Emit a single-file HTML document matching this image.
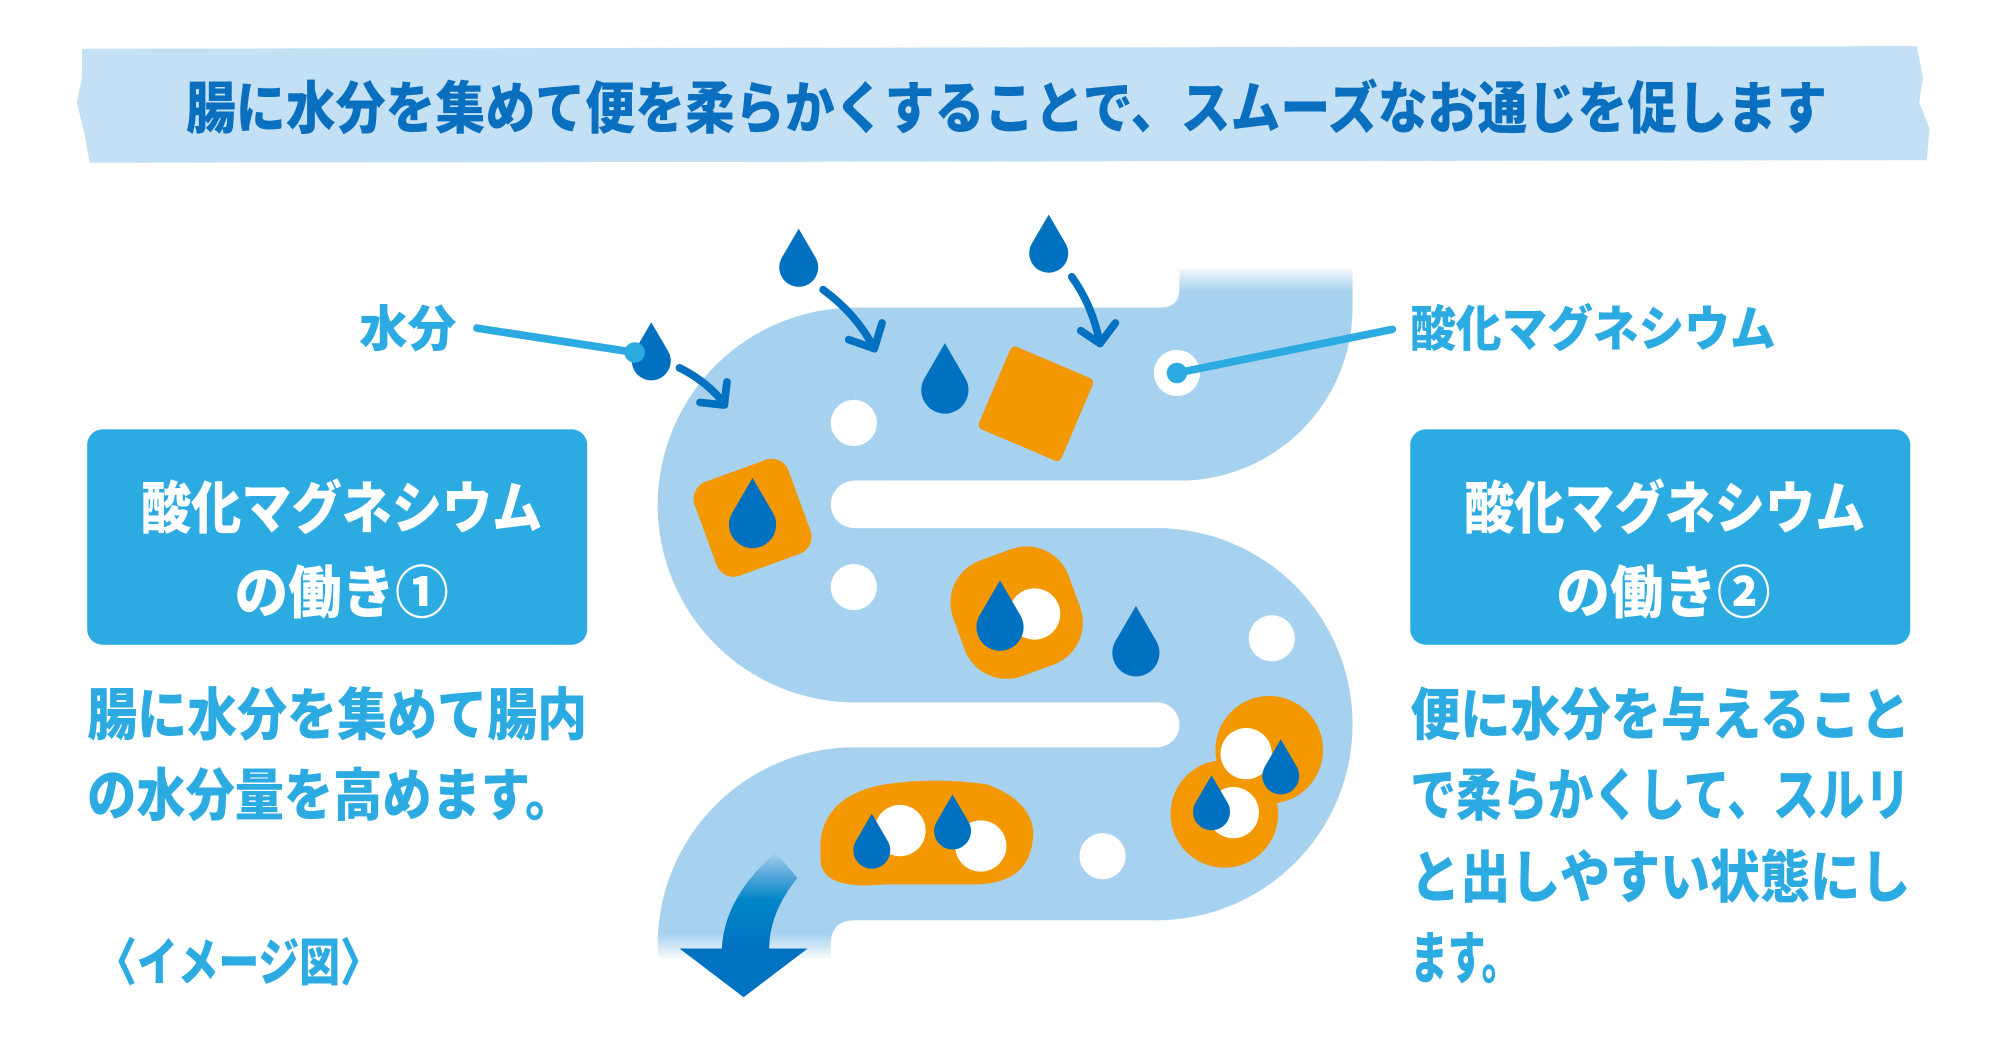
<!DOCTYPE html>
<html><head><meta charset="utf-8"><style>
html,body{margin:0;padding:0;background:#fff;}
svg{display:block;}
text{font-family:"Liberation Sans","Noto Sans CJK JP",sans-serif;font-weight:900;}
</style></head><body>
<svg width="2000" height="1060" viewBox="0 0 1560 827" preserveAspectRatio="none" xmlns="http://www.w3.org/2000/svg">
<defs>
<linearGradient id="ft" x1="0" y1="0" x2="0" y2="1"><stop offset="0" stop-color="#fff"/><stop offset="1" stop-color="#fff" stop-opacity="0"/></linearGradient>
<linearGradient id="fb" x1="0" y1="0" x2="0" y2="1"><stop offset="0" stop-color="#fff" stop-opacity="0"/><stop offset="1" stop-color="#fff"/></linearGradient>
<linearGradient id="ar" x1="0" y1="0" x2="0" y2="1"><stop offset="0" stop-color="#0072c1" stop-opacity="0"/><stop offset="0.5" stop-color="#0086c8"/><stop offset="1" stop-color="#0072c1"/></linearGradient>
<path id="drop" d="M0,-28 L14,-4 A16,16 0 1 1 -14,-4 Z"/>
</defs>
<!-- banner -->
<path d="M64,38 L1495,36 L1500,60 L1497,80 L1505,100 L1503,125 L70,127 L66,105 L60,80 L64,60 Z" fill="#c3e0f5"/>
<text x="145" y="100" font-size="44" fill="#0a6fbf" textLength="1280" lengthAdjust="spacingAndGlyphs">腸に水分を集めて便を柔らかくすることで、スムーズなお通じを促します</text>

<!-- left box -->
<rect x="68" y="335" width="390" height="168" rx="12" fill="#2caae2"/>
<text x="110" y="412" font-size="44" fill="#fff" textLength="313" lengthAdjust="spacingAndGlyphs">酸化マグネシウム</text>
<text x="183" y="478" font-size="44" fill="#fff" textLength="167" lengthAdjust="spacingAndGlyphs">の働き①</text>
<text x="68" y="573" font-size="44" fill="#2caae2" textLength="390" lengthAdjust="spacingAndGlyphs">腸に水分を集めて腸内</text>
<text x="68" y="636" font-size="44" fill="#2caae2" textLength="380" lengthAdjust="spacingAndGlyphs">の水分量を高めます。</text>
<text x="75" y="765" font-size="40" fill="#2caae2" textLength="222" lengthAdjust="spacingAndGlyphs">〈イメージ図〉</text>

<!-- right box -->
<rect x="1100" y="335" width="390" height="168" rx="12" fill="#2caae2"/>
<text x="1142" y="412" font-size="44" fill="#fff" textLength="313" lengthAdjust="spacingAndGlyphs">酸化マグネシウム</text>
<text x="1214" y="478" font-size="44" fill="#fff" textLength="167" lengthAdjust="spacingAndGlyphs">の働き②</text>
<text x="1100" y="573" font-size="44" fill="#2caae2" textLength="390" lengthAdjust="spacingAndGlyphs">便に水分を与えること</text>
<text x="1100" y="636" font-size="44" fill="#2caae2" textLength="390" lengthAdjust="spacingAndGlyphs">で柔らかくして、スルリ</text>
<text x="1100" y="700" font-size="44" fill="#2caae2" textLength="390" lengthAdjust="spacingAndGlyphs">と出しやすい状態にし</text>
<text x="1100" y="763" font-size="44" fill="#2caae2" textLength="85" lengthAdjust="spacingAndGlyphs">ます。</text>

<!-- labels -->
<text x="280" y="270" font-size="38" fill="#2caae2" textLength="76" lengthAdjust="spacingAndGlyphs">水分</text>
<text x="1100" y="270" font-size="38" fill="#2caae2" textLength="285" lengthAdjust="spacingAndGlyphs">酸化マグネシウム</text>

<!-- intestine -->
<g fill="#a6d1ef">
<path d="M667,240 H905 Q920,240 920,225 V210 H1055 V240 A135,135 0 0 1 920,375 H667 Z"/>
<path d="M667,240 A154,154 0 0 0 667,548 Z"/>
<rect x="660" y="412" width="250" height="136"/>
<path d="M902,412 A153,153 0 0 1 902,718 Z"/>
<path d="M667,583 H905 V718 H667 Q648,718 648,737 V748 H513 V737 A154,154 0 0 1 667,583 Z"/>
</g>
<rect x="648" y="375" width="412" height="37" rx="18.5" fill="#fff"/>
<rect x="480" y="548" width="440" height="35" rx="17.5" fill="#fff"/>
<rect x="915" y="206" width="145" height="22" fill="url(#ft)"/>
<rect x="508" y="728" width="145" height="22" fill="url(#fb)"/>

<!-- exit arrow -->
<path d="M605,665 Q565,700 563,740 L600,740 Q600,712 622,685 Z" fill="url(#ar)"/>
<polygon points="530,740 630,740 580,778" fill="#0072c1"/>

<!-- white dots -->
<g fill="#fff">
<circle cx="666" cy="330" r="18"/><circle cx="666" cy="458" r="18"/>
<circle cx="992" cy="498" r="18"/><circle cx="860" cy="668" r="18"/>
<circle cx="918" cy="291" r="18"/>
</g>

<!-- orange shapes -->
<g fill="#f39800">
<rect x="773" y="280" width="70" height="70" rx="4" transform="rotate(23 808 315)"/>
<rect x="548" y="365" width="78" height="78" rx="14" transform="rotate(-20 587 404)"/>
<rect x="745" y="430" width="96" height="96" rx="35" transform="rotate(-20 793 478)"/>
<circle cx="990" cy="585" r="42"/><circle cx="955" cy="635" r="42"/>
<path d="M640,655 Q645,620 690,612 Q730,606 770,612 Q805,625 806,650 Q805,690 760,690 L690,690 Q640,695 640,670 Z"/>
</g>
<g fill="#fff">
<circle cx="807" cy="479" r="20"/>
<circle cx="972" cy="588" r="20"/><circle cx="962" cy="634" r="20"/>
<circle cx="702" cy="648" r="20"/><circle cx="765" cy="660" r="20"/>
</g>

<!-- drops -->
<g fill="#0071c1">
<use href="#drop" transform="translate(623,205) scale(0.95)"/>
<use href="#drop" transform="translate(818,194) scale(0.95)"/>
<use href="#drop" transform="translate(508,278) scale(0.95)"/>
<use href="#drop" transform="translate(737,300) scale(1.15)"/>
<use href="#drop" transform="translate(886,505) scale(1.15)"/>
<use href="#drop" transform="translate(587,405) scale(1.15)"/>
<use href="#drop" transform="translate(780,485) scale(1.15)"/>
<use href="#drop" transform="translate(999,602) scale(0.9)"/>
<use href="#drop" transform="translate(945,630) scale(0.9)"/>
<use href="#drop" transform="translate(680,660) scale(0.9)"/>
<use href="#drop" transform="translate(743,645) scale(0.9)"/>
</g>

<!-- curved arrows -->
<g fill="none" stroke="#0071c1" stroke-width="6" stroke-linecap="round" stroke-linejoin="round">
<path d="M530,287 Q552,298 565,315"/><path d="M546,314 L565,316 L567,298"/>
<path d="M642,226 Q668,245 682,272"/><path d="M662,265 L682,272 L688,252"/>
<path d="M836,216 Q852,238 858,268"/><path d="M843,258 L858,268 L870,252"/>
</g>

<!-- label lines -->
<g stroke="#2caae2" stroke-width="6" stroke-linecap="round">
<line x1="372" y1="256" x2="495" y2="275"/>
<line x1="1086" y1="257" x2="918" y2="291"/>
</g>
<circle cx="495" cy="275" r="8" fill="#2caae2"/>
<circle cx="918" cy="291" r="8" fill="#2caae2"/>
</svg>
</body></html>
